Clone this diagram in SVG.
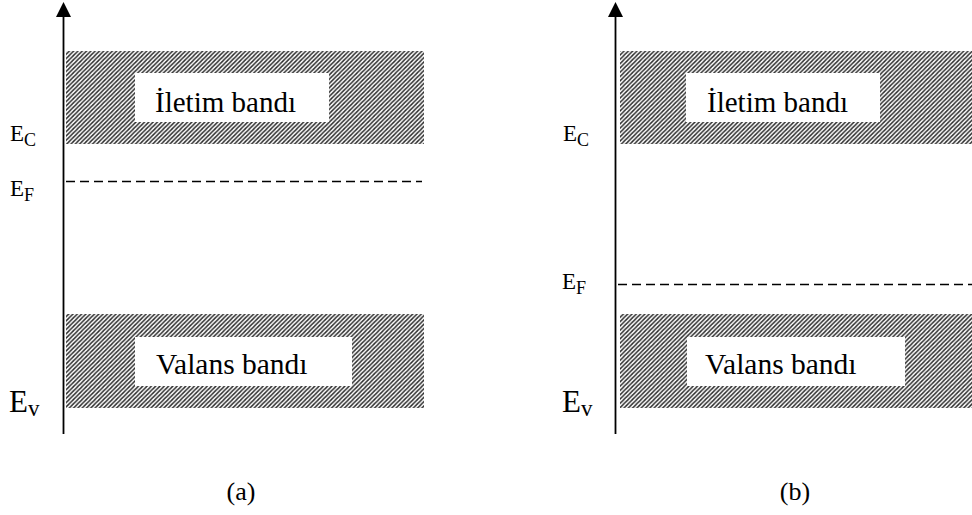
<svg xmlns="http://www.w3.org/2000/svg" width="972" height="515" viewBox="0 0 972 515">
  <style>
    .lbl { font-family: "Liberation Serif", "Times New Roman", serif; fill: #000; }
    .band { fill: url(#hatch); }
    .gap { fill: #fff; }
    .axis { stroke: #000; stroke-width: 1.8; fill: none; }
    .fermi { stroke: #000; stroke-width: 1.7; stroke-dasharray: 9 5; fill: none; }
  </style>
  <defs>
    <pattern id="hatch" patternUnits="userSpaceOnUse" width="4.3" height="4.3">
      <rect width="4.3" height="4.3" fill="#fff"/>
      <path d="M-1,1.075 L1.075,-1 M0,4.3 L4.3,0 M3.225,5.3 L5.3,3.225" stroke="#2a2a2a" stroke-width="1.4"/>
    </pattern>
  </defs>

  <!-- panel (a) -->
  <g id="panel-a">
    <g id="a-conduction">
      <rect class="band" x="66" y="51" width="358" height="93"/>
      <rect class="gap" x="135" y="73" width="194" height="49"/>
      <text class="lbl" x="155" y="112" font-size="29">İletim bandı</text>
    </g>
    <g id="a-valence">
      <rect class="band" x="66" y="314" width="358" height="94"/>
      <rect class="gap" x="135" y="337" width="217" height="49"/>
      <text class="lbl" x="156" y="374" font-size="29.5">Valans bandı</text>
    </g>
    <g id="a-labels">
      <text class="lbl" x="10" y="141" font-size="23">E<tspan font-size="18" dy="5">C</tspan></text>
      <text class="lbl" x="10" y="196" font-size="23">E<tspan font-size="18" dy="5">F</tspan></text>
      <text class="lbl" x="9" y="412" font-size="31">E<tspan font-size="23" dy="4">v</tspan></text>
      <text class="lbl" x="241" y="500" font-size="26" text-anchor="middle">(a)</text>
    </g>
  </g>

  <!-- panel (b) -->
  <g id="panel-b">
    <g id="b-conduction">
      <rect class="band" x="620" y="51" width="352" height="93"/>
      <rect class="gap" x="686" y="73" width="194" height="49"/>
      <text class="lbl" x="707" y="112" font-size="29">İletim bandı</text>
    </g>
    <g id="b-valence">
      <rect class="band" x="620" y="314" width="352" height="94"/>
      <rect class="gap" x="687" y="337" width="218" height="49"/>
      <text class="lbl" x="705" y="374" font-size="29.5">Valans bandı</text>
    </g>
    <g id="b-labels">
      <text class="lbl" x="563" y="141" font-size="23">E<tspan font-size="18" dy="5">C</tspan></text>
      <text class="lbl" x="562" y="289" font-size="23">E<tspan font-size="18" dy="5">F</tspan></text>
      <text class="lbl" x="562" y="412" font-size="31">E<tspan font-size="23" dy="4">v</tspan></text>
      <text class="lbl" x="795" y="500" font-size="26" text-anchor="middle">(b)</text>
    </g>
  </g>

  <!-- energy axes and Fermi levels -->
  <g id="connectors">
    <line class="axis" x1="63.5" y1="14" x2="63.5" y2="434"/>
    <polygon points="63.5,2 56,17 71,17" fill="#000"/>
    <line class="fermi" x1="66" y1="181.5" x2="422" y2="181.5"/>
    <line class="axis" x1="615.5" y1="14" x2="615.5" y2="434"/>
    <polygon points="615.5,2 608,17 623,17" fill="#000"/>
    <line class="fermi" x1="618" y1="284.5" x2="972" y2="284.5"/>
  </g>
</svg>
